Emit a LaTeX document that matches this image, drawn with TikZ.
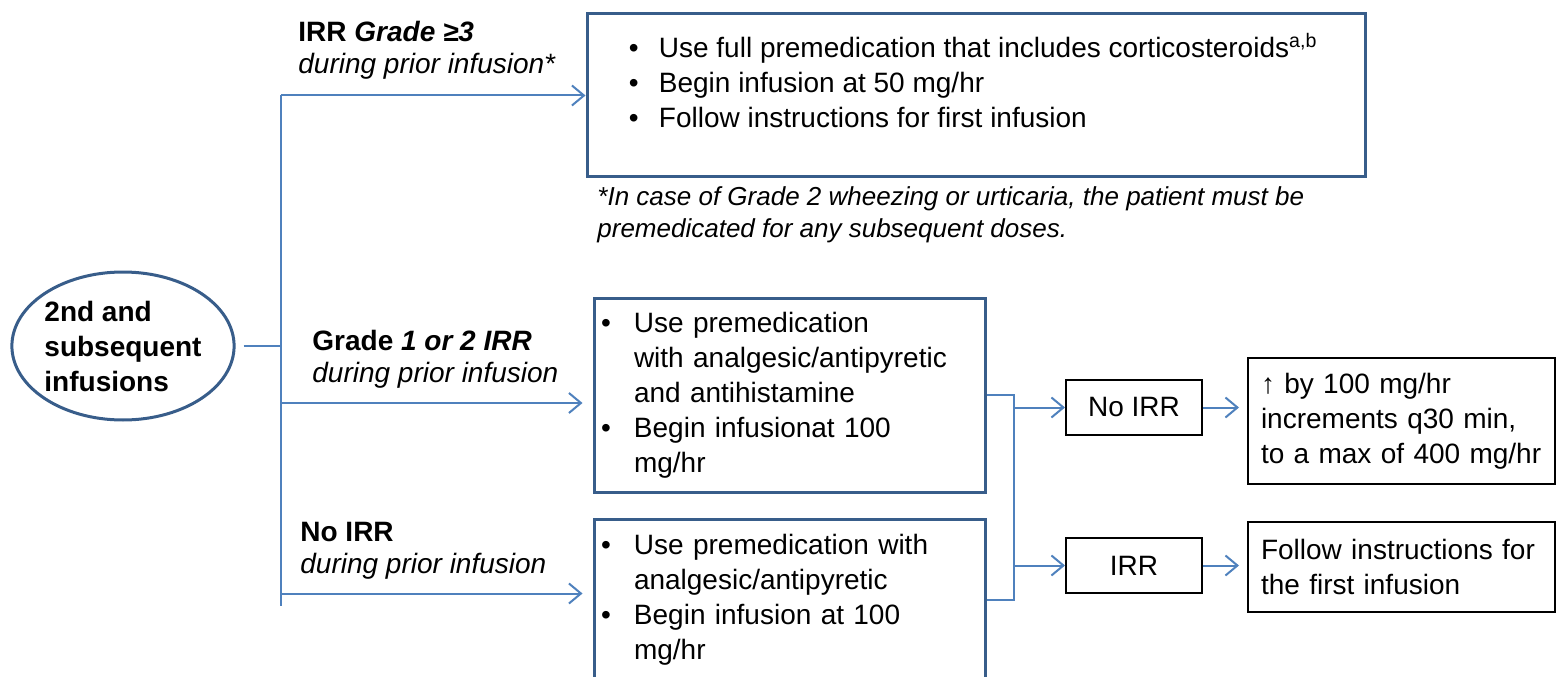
\documentclass[tikz,border=0pt]{standalone}
\usepackage{fontspec}
\setmainfont{Liberation Sans}
\usetikzlibrary{shapes.geometric, arrows.meta, positioning}
\definecolor{frameblue}{RGB}{56, 93, 138}
\definecolor{linkblue}{RGB}{79, 129, 189}

\begin{document}
\begin{tikzpicture}[x=0.5pt, y=0.5pt,
    every node/.style={font=\fontsize{14}{17.5}\selectfont, inner sep=0pt},
    startnode/.style={ellipse, draw=frameblue, line width=1.5pt, minimum width=104pt, minimum height=74pt, align=left, font=\bfseries\fontsize{14}{17.5}\selectfont},
    listbox/.style={draw=frameblue, line width=1.5pt, align=left},
    plainbox/.style={draw=black, line width=1pt, align=left},
    branchlabel/.style={anchor=north west, align=left, font=\fontsize{14}{16}\selectfont},
    link/.style={draw=linkblue, line width=1pt},
    linkarrow/.style={link, -{Straight Barb[length=6pt, width=10pt]}}
]
    % Page frame
    \useasboundingbox (0,0) rectangle (1557,676);

    % Start
    \node[startnode] (start) at (123,330) {2nd and\\subsequent\\infusions};
    \coordinate (split) at (281,330);

    % Branch labels
    \node[branchlabel] (gradethree) at (298,655) {\textbf{IRR \textit{Grade ≥3}}\\\textit{during prior infusion*}};
    \node[branchlabel] (gradeonetwo) at (312,346) {\textbf{Grade \textit{1 or 2 IRR}}\\\textit{during prior infusion}};
    \node[branchlabel] (noreaction) at (300,154) {\textbf{No IRR}\\\textit{during prior infusion}};

    % Premedication boxes
    \node[listbox, minimum width=389pt, minimum height=81.5pt] (box1) at (976,580.5) {};
    \node[anchor=north west, align=left] (box1list) at ([xshift=21.5pt, yshift=-10pt]box1.north west) {%
        \begin{tabular}{@{}p{15pt}@{}l@{}}
        \textbullet & Use full premedication that includes corticosteroids\textsuperscript{a,b}\\
        \textbullet & Begin infusion at 50 mg/hr\\
        \textbullet & Follow instructions for first infusion
        \end{tabular}};
    \node[anchor=north west, align=left, font=\itshape\fontsize{13}{16}\selectfont] (footnote) at (597,490)
        {*In case of Grade 2 wheezing or urticaria, the patient must be\\premedicated for any subsequent doses.};

    \node[listbox, inner xsep=3.5pt, text width=188.5pt, minimum height=97pt] (box2) at (789.5,281) {%
        \begin{tabular}{@{}p{16.5pt}@{}l@{}}
        \textbullet & Use premedication\\
         & with analgesic/antipyretic\\
         & and antihistamine\\
        \textbullet & Begin infusionat 100\\
         & mg/hr
        \end{tabular}};
    \node[listbox, inner xsep=3.5pt, text width=188.5pt, minimum height=80.5pt] (box3) at (789.5,76.5) {%
        \begin{tabular}{@{}p{16.5pt}@{}l@{}}
        \textbullet & Use premedication with\\
         & analgesic/antipyretic\\
        \textbullet & Begin infusion at 100\\
         & mg/hr
        \end{tabular}};

    % Outcome boxes
    \node[plainbox, align=center, minimum width=68pt, minimum height=27.5pt] (noirr) at (1134,268.5) {No IRR};
    \node[plainbox, align=center, minimum width=68pt, minimum height=27.5pt] (irr) at (1134,110.5) {IRR};
    \node[plainbox, inner xsep=6.5pt, text width=140.5pt, minimum height=63pt] (res1) at (1401.5,255)
        {↑ by 100 mg/hr\\increments q30 min,\\to a max of 400 mg/hr};
    \node[plainbox, inner xsep=6.5pt, text width=140.5pt, minimum height=45pt] (res2) at (1401.5,109)
        {Follow instructions for\\the first infusion};

    % Connectors
    \draw[link] ([xshift=4pt]start.east) -- (split);
    \draw[link] (split |- box1.west) -- ([yshift=-3pt]split |- box3.west);
    \draw[linkarrow] (split |- box1.west) -- (box1.west);
    \draw[linkarrow, shorten >=5pt] ([yshift=-4pt]split |- box2.west) -- ([yshift=-4pt]box2.west);
    \draw[linkarrow, shorten >=5pt] ([yshift=3pt]split |- box3.west) -- ([yshift=3pt]box3.west);

    \draw[link] (box2.east) -- ++(27,0) coordinate (merge) |- (box3.east);
    \draw[linkarrow] (merge |- noirr.west) -- (noirr.west);
    \draw[linkarrow] (merge |- irr.west) -- (irr.west);
    \draw[linkarrow, shorten >=4pt] (noirr.east) -- (noirr.east -| res1.west);
    \draw[linkarrow, shorten >=4pt] (irr.east) -- (irr.east -| res2.west);
\end{tikzpicture}
\end{document}
